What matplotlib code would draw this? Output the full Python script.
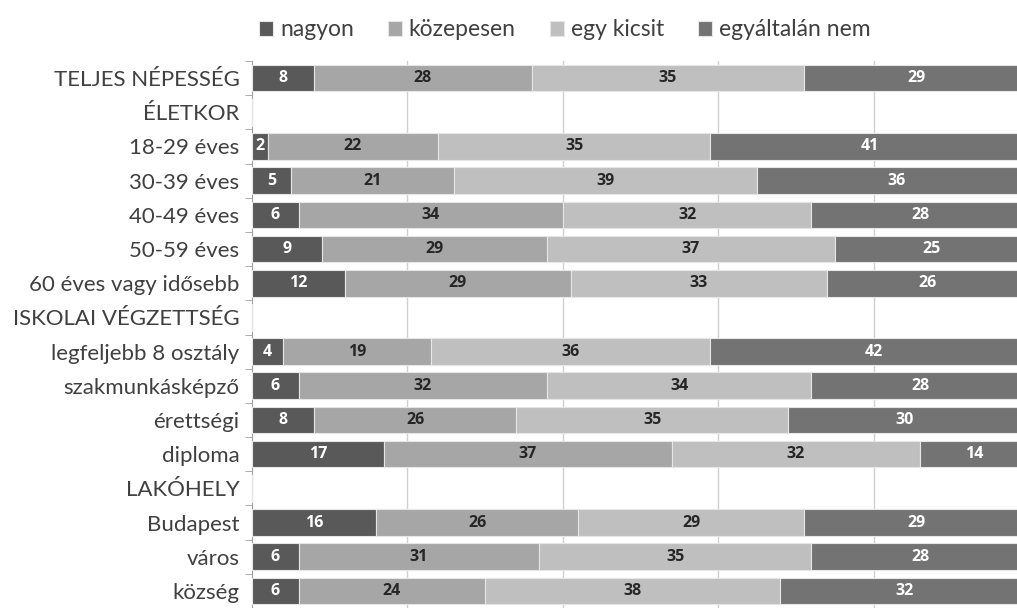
import numpy as np
import matplotlib.pyplot as plt

# Kategóriák (fejléc sorok adat nélkül)
categories = ["TELJES NÉPESSÉG", "ÉLETKOR", "18-29 éves", "30-39 éves", "40-49 éves",
              "50-59 éves", "60 éves vagy idősebb", "ISKOLAI VÉGZETTSÉG",
              "legfeljebb 8 osztály", "szakmunkásképző", "érettségi", "diploma",
              "LAKÓHELY", "Budapest", "város", "község"]
series_names = ["nagyon", "közepesen", "egy kicsit", "egyáltalán nem"]
nan = np.nan
nagyon = [8, nan, 2, 5, 6, 9, 12, nan, 4, 6, 8, 17, nan, 16, 6, 6]
kozepesen = [28, nan, 22, 21, 34, 29, 29, nan, 19, 32, 26, 37, nan, 26, 31, 24]
egy_kicsit = [35, nan, 35, 39, 32, 37, 33, nan, 36, 34, 35, 32, nan, 29, 35, 38]
egyaltalan_nem = [29, nan, 41, 36, 28, 25, 26, nan, 42, 28, 30, 14, nan, 29, 28, 32]

colors = ["#595959", "#a6a6a6", "#bfbfbf", "#737373"]
label_colors = ["white", "#262626", "#262626", "white"]

plt.rcParams['font.family'] = ['Lato', 'DejaVu Sans']

fig = plt.figure(figsize=(10.17, 6.08), dpi=100)
ax = fig.add_axes([252 / 1017, 0, 777 / 1017, 547 / 608])

y = np.arange(len(categories))
left = np.zeros(len(categories))
all_series = [nagyon, kozepesen, egy_kicsit, egyaltalan_nem]
handles = []
for vals, name, col, lc in zip(all_series, series_names, colors, label_colors):
    v = np.array(vals, dtype=float)
    bars = ax.barh(y, np.nan_to_num(v), left=left, height=0.78, color=col,
                   edgecolor="#e6e6e6", linewidth=0.8, label=name, zorder=3)
    handles.append(bars)
    for yi, (l, w) in enumerate(zip(left, v)):
        if not np.isnan(w):
            ax.text(l + w / 2, yi, f"{int(w)}", ha="center", va="center",
                    color=lc, fontsize=11.5, fontweight="bold", zorder=4,
                    family=['Open Sans', 'DejaVu Sans'])
    left = left + np.nan_to_num(v)

ax.set_xlim(0, 100)
ax.set_ylim(len(categories) - 0.5, -0.5)
ax.set_yticks(y)
ax.set_yticklabels(categories, fontsize=16, color="#404040")
ax.set_yticks(np.arange(-0.5, len(categories), 1), minor=True)
ax.tick_params(axis="y", which="major", length=0, pad=9)
ax.tick_params(axis="y", which="minor", length=5, color="#a0a0a0")
ax.set_xticks([20, 40, 60, 80])
ax.tick_params(axis="x", length=0, labelbottom=False)
ax.grid(axis="x", color="#d0d0d0", linewidth=1, zorder=0)
for s in ["top", "right", "bottom"]:
    ax.spines[s].set_visible(False)
ax.spines["left"].set_color("#a0a0a0")

fig.legend(handles=handles, loc="center", bbox_to_anchor=(565 / 1017, 1 - 30 / 608),
           ncol=4, frameon=False, fontsize=16.5, handlelength=0.6, handleheight=0.6,
           handletextpad=0.3, columnspacing=1.5, labelcolor="#404040")

fig.savefig("out.png", dpi=100)
